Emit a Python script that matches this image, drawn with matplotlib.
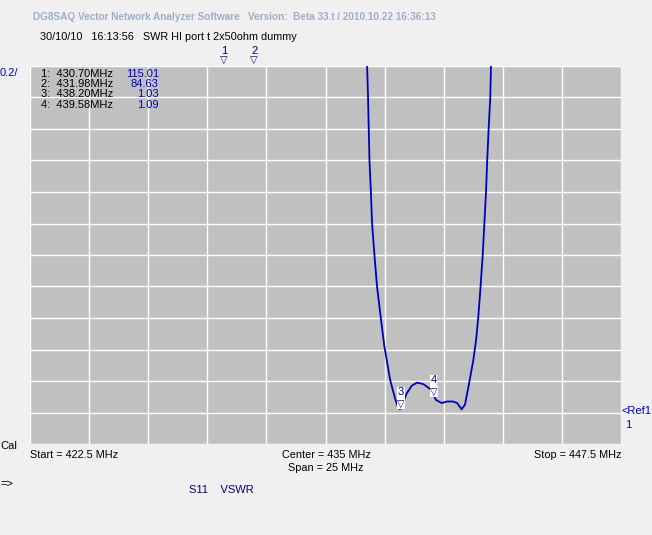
import numpy as np
import matplotlib
matplotlib.use("Agg")
import matplotlib.pyplot as plt
import matplotlib.transforms as mtransforms

# sweep settings
f_start, f_stop = 422.5, 447.5
ref_val, per_div = 1.0, 0.2

# VSWR trace (MHz, VSWR)
freq = [436.76, 436.80, 436.83, 436.86, 436.92, 436.97, 437.07, 437.18, 437.34,
        437.48, 437.73, 437.94, 438.05, 438.15, 438.22, 438.43, 438.65, 438.88,
        439.14, 439.42, 439.58, 439.67, 439.92, 440.15, 440.38, 440.57, 440.76,
        440.90, 441.08, 441.25, 441.37, 441.46, 441.56, 441.65, 441.72, 441.79,
        441.84, 441.90, 441.97, 442.00]
vswr = [3.20, 3.00, 2.80, 2.60, 2.40, 2.20, 2.00, 1.80, 1.60,
        1.43, 1.21, 1.09, 1.04, 1.02, 1.04, 1.12, 1.17, 1.19,
        1.18, 1.15, 1.11, 1.08, 1.06, 1.07, 1.07, 1.06, 1.02,
        1.05, 1.19, 1.33, 1.46, 1.60, 1.80, 2.00, 2.20, 2.40,
        2.60, 2.80, 3.00, 3.20]

# markers
mk_num = ["1", "2", "3", "4"]
mk_freq = [430.70, 431.98, 438.20, 439.58]
mk_val = ["115.01", "84.63", "1.03", "1.09"]

BG = "#F0F0F0"
GRID_BG = "#C0C0C0"
TRACE = "#0000C0"
BLUE_TXT = "#0000CC"
NAVY = "#000080"
FONT = "Liberation Sans"

fig = plt.figure(figsize=(6.52, 5.35), dpi=100, facecolor=BG)
W, H = 652, 535
x0, x1, y0, y1 = 30, 621, 66, 444
ax = fig.add_axes([x0 / W, 1 - y1 / H, (x1 - x0) / W, (y1 - y0) / H])
ax.set_facecolor(GRID_BG)

ax.set_xlim(f_start, f_stop)
ax.set_ylim(ref_val - per_div, ref_val + 11 * per_div)
ax.set_xticks(np.linspace(f_start, f_stop, 11))
ax.set_yticks(np.linspace(ref_val - per_div, ref_val + 11 * per_div, 13))
ax.grid(True, color="white", lw=1.0)
ax.tick_params(length=0, labelbottom=False, labelleft=False)
for s in ax.spines.values():
    s.set_visible(False)

ax.plot(freq, vswr, color=TRACE, lw=1.3, clip_on=True)

# marker table
for i in range(4):
    ty = 0.979 - i * 0.027
    ax.text(0.018, ty, f"{mk_num[i]}:  {mk_freq[i]:.2f}MHz", transform=ax.transAxes,
            fontsize=8, family=FONT, va="center", ha="left", color="black")
    ax.text(0.218, ty, mk_val[i], transform=ax.transAxes,
            fontsize=8, family=FONT, va="center", ha="right", color=BLUE_TXT)

# markers above the grid (off-scale values)
trans_top = mtransforms.blended_transform_factory(ax.transData, ax.transAxes)
for i in range(2):
    ax.text(mk_freq[i], 1.004, "\u25bd", transform=trans_top, ha="center", va="bottom",
            fontsize=7, color=NAVY, family="DejaVu Sans", clip_on=False)
    ax.text(mk_freq[i], 1.027, mk_num[i], transform=trans_top, ha="center", va="bottom",
            fontsize=8, color=NAVY, family=FONT, clip_on=False)

# markers on the trace
for i in range(2, 4):
    v = np.interp(mk_freq[i], freq, vswr)
    ax.annotate("\u25bd", xy=(mk_freq[i], v), xytext=(0, -1), textcoords="offset points",
                ha="center", va="bottom", fontsize=7, color=NAVY, family="DejaVu Sans",
                bbox=dict(boxstyle="square,pad=0.05", fc="white", ec="none"))
    ax.annotate(mk_num[i], xy=(mk_freq[i], v), xytext=(0, 7), textcoords="offset points",
                ha="center", va="bottom", fontsize=8, color=NAVY, family=FONT,
                bbox=dict(boxstyle="square,pad=0.05", fc="white", ec="none"))

# header
fig.text(33 / W, 1 - 17 / H, "DG8SAQ Vector Network Analyzer Software   Version:  Beta 33.t / 2010.10.22 16:36:13",
         fontsize=7.2, family=FONT, weight="bold",
         color="#9DB0C6", va="center", ha="left")
fig.text(40 / W, 1 - 37 / H, "30/10/10   16:13:56   SWR HI port t 2x50ohm dummy",
         fontsize=7.8, family=FONT, color="black", va="center", ha="left")

fig.text(0 / W, 1 - 73 / H, "0.2/", fontsize=8, family=FONT, color=BLUE_TXT, va="center")
fig.text(622 / W, 1 - 411 / H, "<Ref1", fontsize=8, family=FONT, color=BLUE_TXT, va="center")
fig.text(625 / W, 1 - 425 / H, "1", fontsize=8, family=FONT, color=BLUE_TXT, va="center")
fig.text(0 / W, 1 - 446 / H, "Cal", fontsize=8, family=FONT, color="black", va="center")

# sweep annotations
fig.text(30 / W, 1 - 455 / H, f"Start = {f_start} MHz", fontsize=7.8, family=FONT, va="center", ha="left")
fig.text(326 / W, 1 - 455 / H, f"Center = {(f_start + f_stop) / 2:g} MHz", fontsize=7.8, family=FONT,
         va="center", ha="center")
fig.text(326 / W, 1 - 468 / H, f"Span = {f_stop - f_start:g} MHz", fontsize=7.8, family=FONT,
         va="center", ha="center")
fig.text(621 / W, 1 - 455 / H, f"Stop = {f_stop} MHz", fontsize=7.8, family=FONT, va="center", ha="right")

fig.text(0 / W, 1 - 484 / H, "=>", fontsize=8, family=FONT, va="center")
fig.text(189 / W, 1 - 490 / H, "S11    VSWR", fontsize=8, family=FONT, color=NAVY, va="center")

fig.savefig("out.png", dpi=100, facecolor=BG)
